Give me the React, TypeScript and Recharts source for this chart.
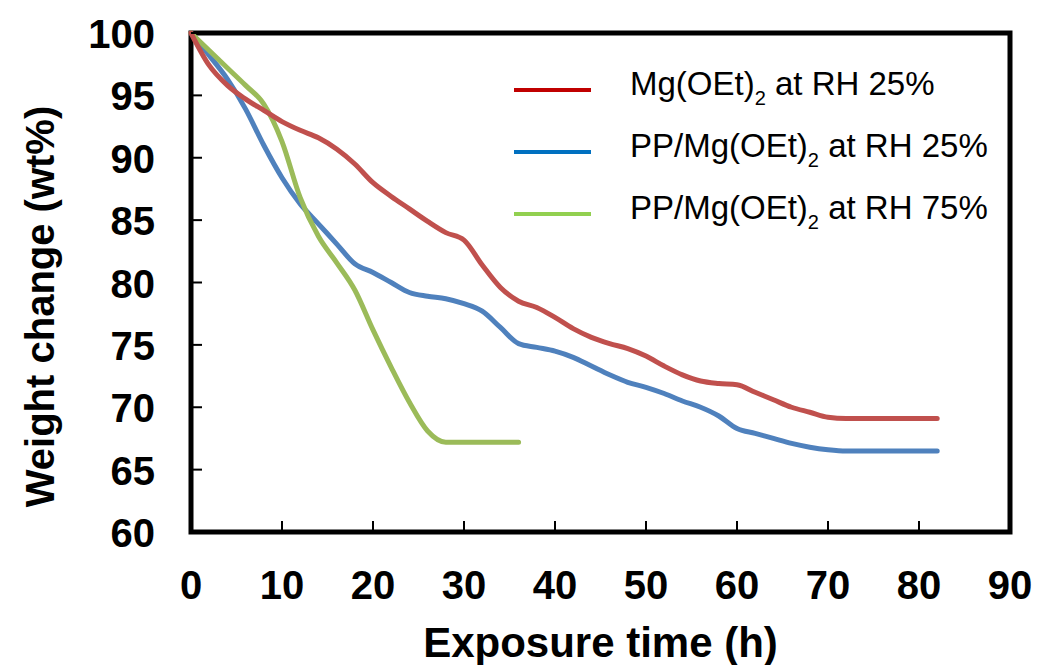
import React from 'react';
import {
  LineChart,
  Line,
  XAxis,
  YAxis,
  ReferenceArea,
  Legend
} from 'recharts';

const FONT = '"Liberation Sans", Arial, sans-serif';

// exposure time (h)
const hours = [
  0, 2, 4, 6, 8, 10, 12, 14, 16, 18, 20, 22, 24, 26, 28, 30, 32, 34, 36, 38, 40,
  42, 44, 46, 48, 50, 52, 54, 56, 58, 60, 62, 64, 66, 68, 70, 72, 74, 76, 78, 80, 82
];

// Mg(OEt)2 at RH 25%
const mgRh25 = [
  100, 97.4, 95.8, 94.7, 93.8, 92.9, 92.2, 91.6, 90.7, 89.5, 88.0, 86.9, 85.9, 84.9, 84.0,
  83.4, 81.4, 79.6, 78.5, 78.0, 77.2, 76.3, 75.6, 75.1, 74.7, 74.1, 73.3, 72.6, 72.1, 71.9,
  71.8, 71.2, 70.6, 70.0, 69.6, 69.2, 69.1, 69.1, 69.1, 69.1, 69.1, 69.1
];

// PP/Mg(OEt)2 at RH 25%
const ppRh25 = [
  100, 98.2, 96.3, 93.9, 91.0, 88.4, 86.3, 84.7, 83.1, 81.5, 80.8, 80.0, 79.2, 78.9, 78.7,
  78.3, 77.7, 76.4, 75.1, 74.8, 74.5, 74.0, 73.3, 72.6, 72.0, 71.6, 71.1, 70.5, 70.0, 69.3,
  68.3, 67.9, 67.5, 67.1, 66.8, 66.6, 66.5, 66.5, 66.5, 66.5, 66.5, 66.5
];

// PP/Mg(OEt)2 at RH 75% (stops at 36 h)
const ppRh75 = [
  100, 98.6, 97.2, 95.8, 94.3, 91.3, 86.8, 83.7, 81.6, 79.4, 76.2, 73.2, 70.4, 68.1, 67.2,
  67.2, 67.2, 67.2, 67.2
];

const xTicks = [0, 10, 20, 30, 40, 50, 60, 70, 80, 90];
const yTicks = [60, 65, 70, 75, 80, 85, 90, 95, 100];

const toSeries = (vals: number[]) => vals.map((w, i) => ({ t: hours[i], w }));

const mgData = toSeries(mgRh25);
const pp25Data = toSeries(ppRh25);
const pp75Data = toSeries(ppRh75);

const legendItems = [
  { pre: 'Mg(OEt)', post: ' at RH 25%', color: '#C00000' },
  { pre: 'PP/Mg(OEt)', post: ' at RH 25%', color: '#0070C0' },
  { pre: 'PP/Mg(OEt)', post: ' at RH 75%', color: '#92D050' }
];

const YTick = (props: any) => {
  const { x, y, payload } = props;
  return (
    <g>
      <line x1={x} x2={x + 11} y1={y} y2={y} stroke="#000" strokeWidth={2} />
      <text x={x - 36} y={y + 15} textAnchor="end" fontFamily={FONT} fontWeight="bold" fontSize={40} fill="#000">
        {payload.value}
      </text>
    </g>
  );
};

const XTick = (props: any) => {
  const { x, y, payload } = props;
  return (
    <g>
      <line x1={x} x2={x} y1={y} y2={y - 11} stroke="#000" strokeWidth={2} />
      <text x={x} y={y + 67} textAnchor="middle" fontFamily={FONT} fontWeight="bold" fontSize={40} fill="#000">
        {payload.value}
      </text>
    </g>
  );
};

const renderLegend = () => (
  <svg width={520} height={190}>
    {legendItems.map((item, i) => {
      const ly = 30 + i * 62;
      return (
        <g key={i}>
          <line x1={14} x2={91} y1={ly} y2={ly} stroke={item.color} strokeWidth={4} />
          <text x={130} y={ly + 5} fontFamily={FONT} fontSize={33} fill="#000">
            {item.pre}
            <tspan fontSize={20} dy={10}>2</tspan>
            <tspan dy={-10}>{item.post}</tspan>
          </text>
        </g>
      );
    })}
  </svg>
);

export default function App() {
  return (
    <div style={{ position: 'absolute', left: 0, top: 0, width: 1037, height: 665, background: '#fff' }}>
      <LineChart width={1037} height={665} margin={{ top: 33, right: 27, left: 0, bottom: 0 }}>
        <XAxis
          dataKey="t"
          type="number"
          domain={[0, 90]}
          ticks={xTicks}
          interval={0}
          axisLine={false}
          tickLine={false}
          tickSize={0}
          tickMargin={0}
          height={133}
          tick={<XTick />}
          allowDuplicatedCategory={false}
          label={(p: any) => {
            const vb = p.viewBox;
            return (
              <text x={vb.x + vb.width / 2} y={657} textAnchor="middle" fontFamily={FONT} fontWeight="bold" fontSize={42} fill="#000">
                Exposure time (h)
              </text>
            );
          }}
        />
        <YAxis
          type="number"
          domain={[60, 100]}
          ticks={yTicks}
          interval={0}
          axisLine={false}
          tickLine={false}
          tickSize={0}
          tickMargin={0}
          width={191}
          tick={<YTick />}
          label={(p: any) => {
            const vb = p.viewBox;
            const cy = vb.y + vb.height / 2 + 24;
            return (
              <text x={54} y={cy} transform={`rotate(-90 54 ${cy})`} textAnchor="middle" fontFamily={FONT} fontWeight="bold" fontSize={40} fill="#000">
                Weight change (wt%)
              </text>
            );
          }}
        />
        <Legend
          layout="vertical"
          align="center"
          verticalAlign="middle"
          content={renderLegend}
          wrapperStyle={{ left: 500, top: 60, width: 520 }}
        />
        <Line data={pp25Data} dataKey="w" name="PP/Mg(OEt)2 at RH 25%" type="monotone" stroke="#4F81BD" strokeWidth={5} strokeLinecap="round" dot={false} isAnimationActive={false} />
        <Line data={pp75Data} dataKey="w" name="PP/Mg(OEt)2 at RH 75%" type="monotone" stroke="#9BBB59" strokeWidth={5} strokeLinecap="round" dot={false} isAnimationActive={false} />
        <Line data={mgData} dataKey="w" name="Mg(OEt)2 at RH 25%" type="monotone" stroke="#C0504D" strokeWidth={5} strokeLinecap="round" dot={false} isAnimationActive={false} />
        <ReferenceArea x1={0} x2={90} y1={60} y2={100} fill="none" stroke="#000" strokeWidth={5} />
      </LineChart>
    </div>
  );
}
